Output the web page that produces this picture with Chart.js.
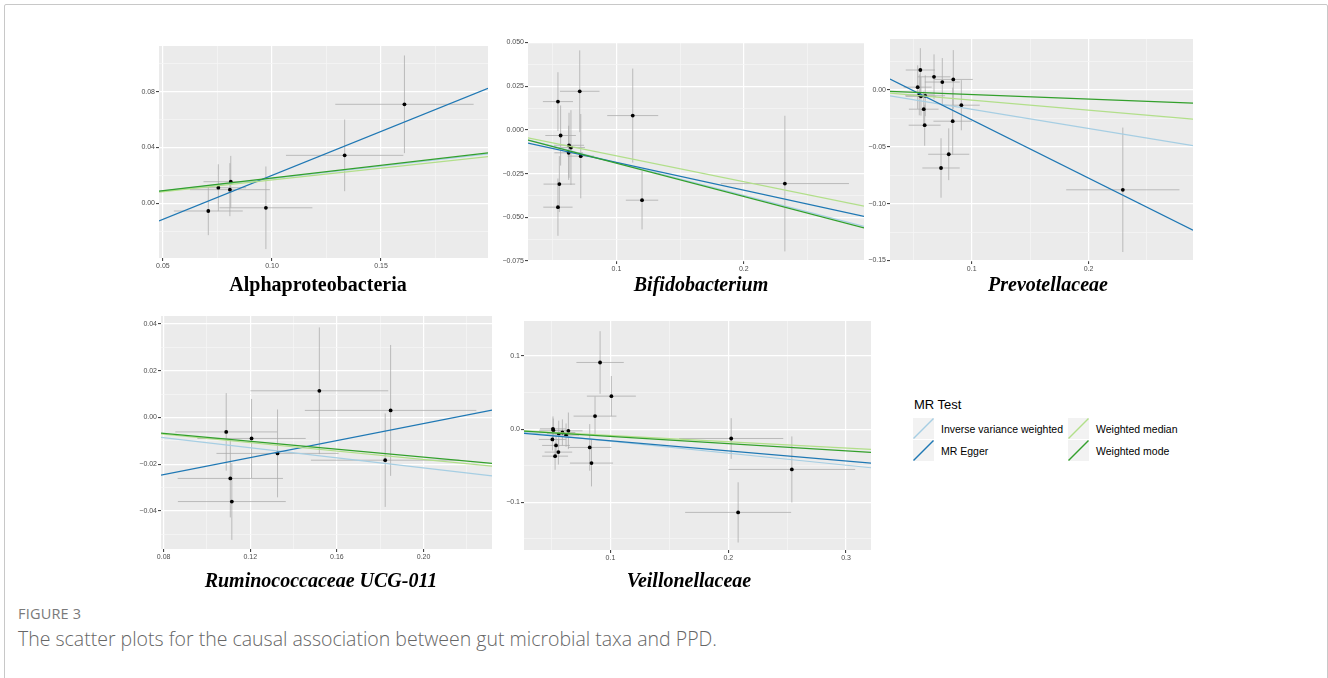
<!DOCTYPE html>
<html>
<head>
<meta charset="utf-8">
<script src="https://cdn.jsdelivr.net/npm/chart.js@4.4.0/dist/chart.umd.min.js"></script>
<style>
  body { margin: 0; background: #fff; width: 1328px; height: 678px; overflow: hidden; position: relative; font-family: "Liberation Sans", Arial, sans-serif; }
  .frame { position: absolute; left: 4px; top: 4px; width: 1322px; height: 720px; border: 1px solid #c8c8c8; border-radius: 2px; }
  canvas { position: absolute; }
  .ttl { position: absolute; font-family: "Liberation Serif", "Times New Roman", serif; font-weight: bold; font-size: 20px; line-height: 20px; white-space: nowrap; transform: translateX(-50%); color: #000; }
  .it { font-style: italic; }
  .lg-title { position: absolute; left: 914px; top: 398px; font-size: 13px; line-height: 14px; color: #000; }
  .lg-txt { position: absolute; font-size: 10.5px; line-height: 12px; color: #000; white-space: nowrap; }
  .lg-key { position: absolute; width: 21px; height: 21px; background: #f2f2f2; }
  .cap-head { position: absolute; left: 18px; top: 605px; font-family: "Open Sans", sans-serif; font-size: 14.5px; line-height: 18px; color: #7a7a7a; letter-spacing: 0.2px; }
  .cap { position: absolute; left: 18px; top: 627px; font-family: "Open Sans", sans-serif; font-weight: 300; font-size: 19.5px; line-height: 24px; color: #666666; white-space: nowrap; }
</style>
</head>
<body>
<div class="frame"></div>

<script>
// --- methods (legend order) ---
const methods = ["Inverse variance weighted", "MR Egger", "Weighted median", "Weighted mode"];
const methodColors = ["#A6CEE3", "#1F78B4", "#B2DF8A", "#33A02C"];

// --- Alphaproteobacteria ---
const alphaBx = [0.0708, 0.0754, 0.0811, 0.0807, 0.0972, 0.1333, 0.1607];
const alphaBy = [-0.0055, 0.0112, 0.0155, 0.0098, -0.0032, 0.0344, 0.0710];
const alphaSx = [0.0158, 0.0127, 0.0125, 0.0183, 0.0213, 0.0269, 0.0317];
const alphaSy = [0.0173, 0.0168, 0.0185, 0.0190, 0.0296, 0.0257, 0.0350];
const alphaSlope = [0.178, 0.631, 0.168, 0.182];
const alphaIcpt = [0, -0.0431, 0, 0];
const alphaXTicks = [0.05, 0.10, 0.15];
const alphaYTicks = [0.00, 0.04, 0.08];

// --- Bifidobacterium ---
const bifidoBx = [0.0541, 0.0712, 0.0562, 0.0628, 0.0643, 0.0625, 0.0720, 0.0552, 0.0541, 0.1128, 0.1201, 0.2322];
const bifidoBy = [0.0162, 0.0221, -0.0032, -0.0088, -0.0101, -0.0131, -0.0150, -0.0310, -0.0442, 0.0082, -0.0402, -0.0307];
const bifidoSx = [0.0118, 0.0155, 0.0120, 0.0118, 0.0110, 0.0112, 0.0104, 0.0124, 0.0115, 0.0200, 0.0127, 0.0503];
const bifidoSy = [0.0168, 0.0234, 0.0172, 0.0186, 0.0214, 0.0155, 0.0241, 0.0160, 0.0164, 0.0269, 0.0167, 0.0388];
const bifidoSlope = [-0.1876, -0.159, -0.148, -0.1906];
const bifidoIcpt = [0, -0.0027, 0, 0];
const bifidoXTicks = [0.1, 0.2];
const bifidoYTicks = [-0.075, -0.050, -0.025, 0.000, 0.025, 0.050];

// --- Prevotellaceae ---
const prevoBx = [0.0560, 0.0537, 0.0677, 0.0748, 0.0842, 0.0551, 0.0565, 0.0602, 0.0589, 0.0597, 0.0911, 0.0837, 0.0803, 0.0737, 0.2294];
const prevoBy = [0.0177, 0.0026, 0.0117, 0.0071, 0.0094, -0.0042, -0.0055, -0.0050, -0.0168, -0.0309, -0.0133, -0.0274, -0.0565, -0.0686, -0.0878];
const prevoSx = [0.0125, 0.0120, 0.0140, 0.0150, 0.0167, 0.0120, 0.0130, 0.0170, 0.0127, 0.0137, 0.0158, 0.0165, 0.0176, 0.0160, 0.0485];
const prevoSy = [0.0192, 0.0192, 0.0198, 0.0211, 0.0258, 0.0180, 0.0170, 0.0180, 0.0155, 0.0181, 0.0221, 0.0296, 0.0228, 0.0262, 0.0548];
const prevoSlope = [-0.169, -0.513, -0.0885, -0.0397];
const prevoIcpt = [0, 0.0251, 0, 0];
const prevoXTicks = [0.1, 0.2];
const prevoYTicks = [-0.15, -0.10, -0.05, 0.00];

// --- Ruminococcaceae UCG-011 ---
const ruminoBx = [0.1089, 0.1206, 0.1326, 0.1108, 0.1115, 0.1519, 0.1848, 0.1823];
const ruminoBy = [-0.0062, -0.0090, -0.0154, -0.0261, -0.0360, 0.0114, 0.0030, -0.0183];
const ruminoSx = [0.0235, 0.0250, 0.0282, 0.0243, 0.0249, 0.0318, 0.0396, 0.0343];
const ruminoSy = [0.0166, 0.0169, 0.0188, 0.0167, 0.0164, 0.0271, 0.0280, 0.0200];
const ruminoSlope = [-0.108, 0.182, -0.090, -0.085];
const ruminoIcpt = [0, -0.039, 0, 0];
const ruminoXTicks = [0.08, 0.12, 0.16, 0.20];
const ruminoYTicks = [-0.04, -0.02, 0.00, 0.02, 0.04];

// --- Veillonellaceae ---
const veilloBx = [0.0912, 0.1008, 0.0869, 0.0824, 0.0839, 0.2025, 0.2540, 0.2084, 0.0512, 0.0515, 0.0592, 0.0643, 0.0561, 0.0623, 0.0507, 0.0538, 0.0558, 0.0530];
const veilloBy = [0.0911, 0.0451, 0.0178, -0.0250, -0.0464, -0.0128, -0.0551, -0.1138, 0.0004, -0.0015, -0.0046, -0.0023, -0.0064, -0.0082, -0.0141, -0.0223, -0.0314, -0.0369];
const veilloSx = [0.0201, 0.0208, 0.0182, 0.0184, 0.0183, 0.0442, 0.0538, 0.0450, 0.0110, 0.0120, 0.0110, 0.0120, 0.0100, 0.0110, 0.0115, 0.0118, 0.0117, 0.0110];
const veilloSy = [0.0428, 0.0275, 0.0267, 0.0319, 0.0319, 0.0278, 0.0451, 0.0412, 0.0170, 0.0160, 0.0180, 0.0250, 0.0180, 0.0160, 0.0150, 0.0160, 0.0170, 0.0187];
const veilloSlope = [-0.1644, -0.1375, -0.0865, -0.0993];
const veilloIcpt = [0, -0.0022, 0, 0];
const veilloXTicks = [0.1, 0.2, 0.3];
const veilloYTicks = [-0.1, 0.0, 0.1];

// panel layout: plot area in page pixels + axis limits
const panels = [
  { name: "Alphaproteobacteria", italic: false, l: 159, t: 46, r: 488, b: 258, xMin: 0.0482, xMax: 0.199, yMin: -0.0392, yMax: 0.1128,
    bx: alphaBx, by: alphaBy, sx: alphaSx, sy: alphaSy, slope: alphaSlope, icpt: alphaIcpt, xt: alphaXTicks, yt: alphaYTicks, xd: 2, yd: 2, tx: 318, ty: 274 },
  { name: "Bifidobacterium", italic: true, l: 528, t: 42, r: 864, b: 261, xMin: 0.0306, xMax: 0.2943, yMin: -0.075, yMax: 0.0503,
    bx: bifidoBx, by: bifidoBy, sx: bifidoSx, sy: bifidoSy, slope: bifidoSlope, icpt: bifidoIcpt, xt: bifidoXTicks, yt: bifidoYTicks, xd: 1, yd: 3, tx: 701, ty: 274 },
  { name: "Prevotellaceae", italic: true, l: 890, t: 39, r: 1193, b: 261, xMin: 0.030, xMax: 0.2895, yMin: -0.1505, yMax: 0.045,
    bx: prevoBx, by: prevoBy, sx: prevoSx, sy: prevoSy, slope: prevoSlope, icpt: prevoIcpt, xt: prevoXTicks, yt: prevoYTicks, xd: 1, yd: 2, tx: 1048, ty: 274 },
  { name: "Ruminococcaceae UCG-011", italic: true, l: 161, t: 316, r: 492, b: 549, xMin: 0.0788, xMax: 0.2316, yMin: -0.0563, yMax: 0.0434,
    bx: ruminoBx, by: ruminoBy, sx: ruminoSx, sy: ruminoSy, slope: ruminoSlope, icpt: ruminoIcpt, xt: ruminoXTicks, yt: ruminoYTicks, xd: 2, yd: 2, tx: 321, ty: 570 },
  { name: "Veillonellaceae", italic: true, l: 524, t: 321, r: 871, b: 550, xMin: 0.0266, xMax: 0.3212, yMin: -0.1652, yMax: 0.1478,
    bx: veilloBx, by: veilloBy, sx: veilloSx, sy: veilloSy, slope: veilloSlope, icpt: veilloIcpt, xt: veilloXTicks, yt: veilloYTicks, xd: 1, yd: 1, tx: 689, ty: 570 }
];

const AX_W = 32, AX_H = 16, PAD = 6;

// ggplot-style major + minor (halfway) ticks
function tickList(major, lo, hi) {
  const step = major[1] - major[0];
  const out = major.map(v => ({ value: v, mj: true }));
  for (let v = major[0] - step / 2; v <= hi + 1e-9; v += step) {
    if (v >= lo - 1e-9) out.push({ value: v, mj: false });
  }
  return out.filter(t => t.value >= lo - 1e-9 && t.value <= hi + 1e-9).sort((a, b) => a.value - b.value);
}

function fmt(v, d) {
  const s = Math.abs(v) < 1e-9 ? (0).toFixed(d) : v.toFixed(d);
  return s.replace("-", "\u2212");
}

// grey panel background
const panelBg = {
  id: "panelBg",
  beforeDraw(chart) {
    const { ctx, chartArea: a } = chart;
    ctx.save();
    ctx.fillStyle = "#EBEBEB";
    ctx.fillRect(a.left, a.top, a.width, a.height);
    ctx.restore();
  }
};

// vertical + horizontal error bars (beta +/- se)
const errorBars = {
  id: "errorBars",
  beforeDatasetsDraw(chart, args, opts) {
    const { ctx, chartArea: a, scales: { x, y } } = chart;
    ctx.save();
    ctx.beginPath();
    ctx.rect(a.left, a.top, a.width, a.height);
    ctx.clip();
    ctx.strokeStyle = "rgba(170,170,170,0.75)";
    ctx.lineWidth = 1;
    opts.bx.forEach((bx, i) => {
      const by = opts.by[i];
      const px = x.getPixelForValue(bx), py = y.getPixelForValue(by);
      ctx.beginPath();
      ctx.moveTo(px, y.getPixelForValue(by - opts.sy[i]));
      ctx.lineTo(px, y.getPixelForValue(by + opts.sy[i]));
      ctx.moveTo(x.getPixelForValue(bx - opts.sx[i]), py);
      ctx.lineTo(x.getPixelForValue(bx + opts.sx[i]), py);
      ctx.stroke();
    });
    ctx.restore();
  }
};

function axis(ticks, lo, hi, d, isX) {
  return {
    type: "linear",
    min: lo,
    max: hi,
    bounds: "data",
    afterFit: s => { if (isX) s.height = AX_H; else s.width = AX_W; },
    afterBuildTicks: s => { s.ticks = ticks.map(t => ({ value: t.value, mj: t.mj })); },
    ticks: {
      autoSkip: false,
      maxRotation: 0,
      padding: 1,
      color: "#4D4D4D",
      font: { size: 7, family: "'Liberation Sans', Arial, sans-serif" },
      callback: (v, i) => ticks[i] && ticks[i].mj ? fmt(v, d) : ""
    },
    grid: {
      color: c => c.tick && c.tick.mj ? "#FFFFFF" : "#F5F5F5",
      lineWidth: c => c.tick && c.tick.mj ? 1.2 : 0.8,
      tickColor: c => c.tick && c.tick.mj ? "#333333" : "rgba(0,0,0,0)",
      tickLength: 3,
      tickWidth: 1
    },
    border: { display: false }
  };
}

panels.forEach(p => {
  const cv = document.createElement("canvas");
  const w = (p.r - p.l) + AX_W + PAD, h = (p.b - p.t) + AX_H + PAD;
  cv.width = w; cv.height = h;
  cv.style.left = (p.l - AX_W) + "px";
  cv.style.top = (p.t - PAD) + "px";
  cv.style.width = w + "px"; cv.style.height = h + "px";
  document.body.appendChild(cv);

  const lines = methods.map((m, k) => ({
    type: "line",
    label: m,
    data: [p.xMin, p.xMax].map(x => ({ x: x, y: p.icpt[k] + p.slope[k] * x })),
    borderColor: methodColors[k],
    borderWidth: 1.2,
    pointRadius: 0,
    fill: false,
    clip: 0,
    order: 4 - k
  }));

  const pts = {
    type: "scatter",
    label: "SNPs",
    data: p.bx.map((x, i) => ({ x: x, y: p.by[i] })),
    backgroundColor: "#000000",
    borderWidth: 0,
    pointRadius: 1.9,
    order: 10
  };

  new Chart(cv, {
    type: "scatter",
    data: { datasets: lines.concat([pts]) },
    options: {
      responsive: false,
      animation: false,
      devicePixelRatio: 1,
      layout: { padding: { top: PAD, right: PAD, left: 0, bottom: 0 } },
      plugins: {
        legend: { display: false },
        tooltip: { enabled: false },
        errorBars: { bx: p.bx, by: p.by, sx: p.sx, sy: p.sy }
      },
      scales: {
        x: axis(tickList(p.xt, p.xMin, p.xMax), p.xMin, p.xMax, p.xd, true),
        y: axis(tickList(p.yt, p.yMin, p.yMax), p.yMin, p.yMax, p.yd, false)
      }
    },
    plugins: [panelBg, errorBars]
  });

  const t = document.createElement("div");
  t.className = "ttl" + (p.italic ? " it" : "");
  t.style.left = p.tx + "px";
  t.style.top = p.ty + "px";
  t.textContent = p.name;
  document.body.appendChild(t);
});

// legend (MR Test)
const lgSpots = [[913, 418], [913, 440], [1068, 418], [1068, 440]];
const lgTitle = document.createElement("div");
lgTitle.className = "lg-title";
lgTitle.textContent = "MR Test";
document.body.appendChild(lgTitle);
methods.forEach((m, k) => {
  const [x, y] = lgSpots[k];
  const key = document.createElement("div");
  key.className = "lg-key";
  key.style.left = x + "px"; key.style.top = y + "px";
  key.innerHTML = '<svg width="21" height="21"><line x1="0.5" y1="20.5" x2="20.5" y2="0.5" stroke="' + methodColors[k] + '" stroke-width="1.4"/></svg>';
  document.body.appendChild(key);
  const txt = document.createElement("div");
  txt.className = "lg-txt";
  txt.style.left = (x + 28) + "px"; txt.style.top = (y + 5) + "px";
  txt.textContent = m;
  document.body.appendChild(txt);
});
</script>

<div class="cap-head">FIGURE 3</div>
<div class="cap">The scatter plots for the causal association between gut microbial taxa and PPD.</div>
</body>
</html>
